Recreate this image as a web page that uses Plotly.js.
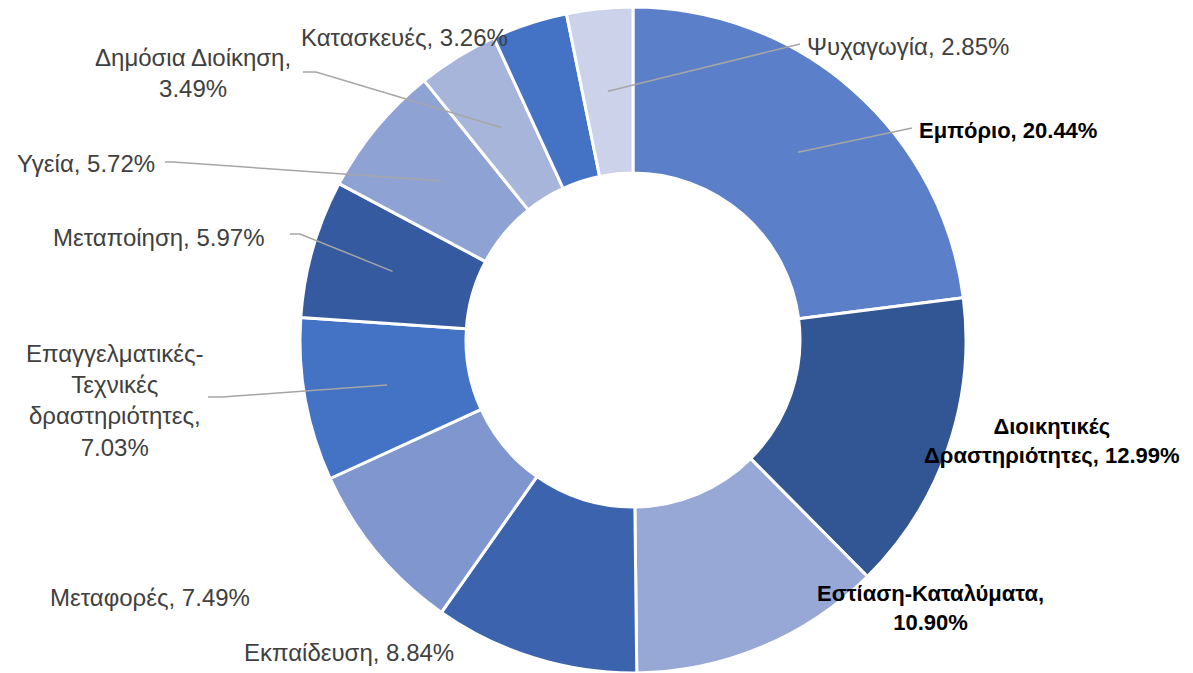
<!DOCTYPE html>
<html>
<head>
<meta charset="utf-8">
<script src="https://cdn.plot.ly/plotly-3.0.1.min.js"></script>
<style>html,body{margin:0;padding:0;background:#fff;}#chart{width:1193px;height:673px;}</style>
</head>
<body>
<div id="chart"></div>
<script>
// ---- data ----
const categories = ["Εμπόριο", "Διοικητικές Δραστηριότητες", "Εστίαση-Καταλύματα", "Εκπαίδευση", "Μεταφορές",
  "Επαγγελματικές-Τεχνικές δραστηριότητες", "Μεταποίηση", "Υγεία", "Δημόσια Διοίκηση", "Κατασκευές", "Ψυχαγωγία"];
const values = [20.44, 12.99, 10.90, 8.84, 7.49, 7.03, 5.97, 5.72, 3.49, 3.26, 2.85];
const labelTexts = ["Εμπόριο, 20.44%", "Διοικητικές<br>Δραστηριότητες, 12.99%", "Εστίαση-Καταλύματα,<br>10.90%",
  "Εκπαίδευση, 8.84%", "Μεταφορές, 7.49%", "Επαγγελματικές-<br>Τεχνικές<br>δραστηριότητες,<br>7.03%",
  "Μεταποίηση, 5.97%", "Υγεία, 5.72%", "Δημόσια Διοίκηση,<br>3.49%", "Κατασκευές, 3.26%", "Ψυχαγωγία, 2.85%"];
const boldLabels = [true, true, true, false, false, false, false, false, false, false, false];

// ---- style / layout ----
const colors = ["#5B7FC8", "#325594", "#97A8D6", "#3C64AE", "#7F96CF", "#4472C4", "#355A9F", "#8EA3D4", "#A8B5DA", "#4472C4", "#CBD2E9"];
const W = 1193, H = 673;
const cx = 633, cy = 340, rOut = 333, rIn = 167;
// label positions (pixels) and anchors
const labelPos = [
  {x: 917, y: 130, xa: "left"},
  {x: 1052, y: 441, xa: "center"},
  {x: 930, y: 608, xa: "center"},
  {x: 349, y: 652, xa: "center"},
  {x: 150, y: 597, xa: "center"},
  {x: 115, y: 400, xa: "center"},
  {x: 159, y: 237, xa: "center"},
  {x: 86, y: 163, xa: "center"},
  {x: 193, y: 73, xa: "center"},
  {x: 404, y: 37, xa: "center"},
  {x: 805, y: 47, xa: "left"}
];
// leader line label-side points (pixels); null = no leader
const leaderPts = [
  [[912, 128]],
  null, null, null, null,
  [[208, 397], [222, 397]],
  [[290, 234], [300, 234]],
  [[165, 162], [173, 162]],
  [[303, 72], [316, 72]],
  null,
  [[800, 44]]
];

const px = x => x / W;
const py = y => 1 - y / H;

const total = values.reduce((a, b) => a + b, 0);
let cum = 0;
const mids = values.map(v => { const m = (cum + v / 2) / total; cum += v; return m; });

const annotations = categories.map((c, i) => ({
  xref: "paper", yref: "paper",
  x: px(labelPos[i].x), y: py(labelPos[i].y),
  xanchor: labelPos[i].xa, yanchor: "middle",
  text: boldLabels[i] ? "<b>" + labelTexts[i] + "</b>" : labelTexts[i],
  showarrow: false, align: "center",
  font: {family: "Liberation Sans, Arial, sans-serif", size: boldLabels[i] ? 22 : 24, color: boldLabels[i] ? "#000000" : "#404040"}
}));

const shapes = [];
leaderPts.forEach((pts, i) => {
  if (!pts) return;
  const ang = mids[i] * 2 * Math.PI;
  const r = (rOut + rIn) / 2;
  const sx = cx + r * Math.sin(ang), sy = cy - r * Math.cos(ang);
  const all = pts.concat([[sx, sy]]);
  const path = all.map((p, k) => (k ? "L" : "M") + px(p[0]) + "," + py(p[1])).join(" ");
  shapes.push({type: "path", xref: "paper", yref: "paper", path: path, line: {color: "#A6A6A6", width: 1.5}});
});

const trace = {
  type: "pie",
  labels: categories,
  values: values,
  hole: rIn / rOut,
  sort: false,
  direction: "clockwise",
  rotation: 0,
  textinfo: "none",
  marker: {colors: colors, line: {color: "#ffffff", width: 3}},
  domain: {x: [px(cx - 400), px(cx + 400)], y: [py(cy + rOut), py(cy - rOut)]},
  showlegend: false,
  hoverinfo: "label+value"
};

const layout = {
  width: W, height: H,
  margin: {l: 0, r: 0, t: 0, b: 0},
  paper_bgcolor: "#ffffff",
  showlegend: false,
  annotations: annotations,
  shapes: shapes
};

Plotly.newPlot("chart", [trace], layout, {displayModeBar: false, staticPlot: true});
</script>
</body>
</html>
